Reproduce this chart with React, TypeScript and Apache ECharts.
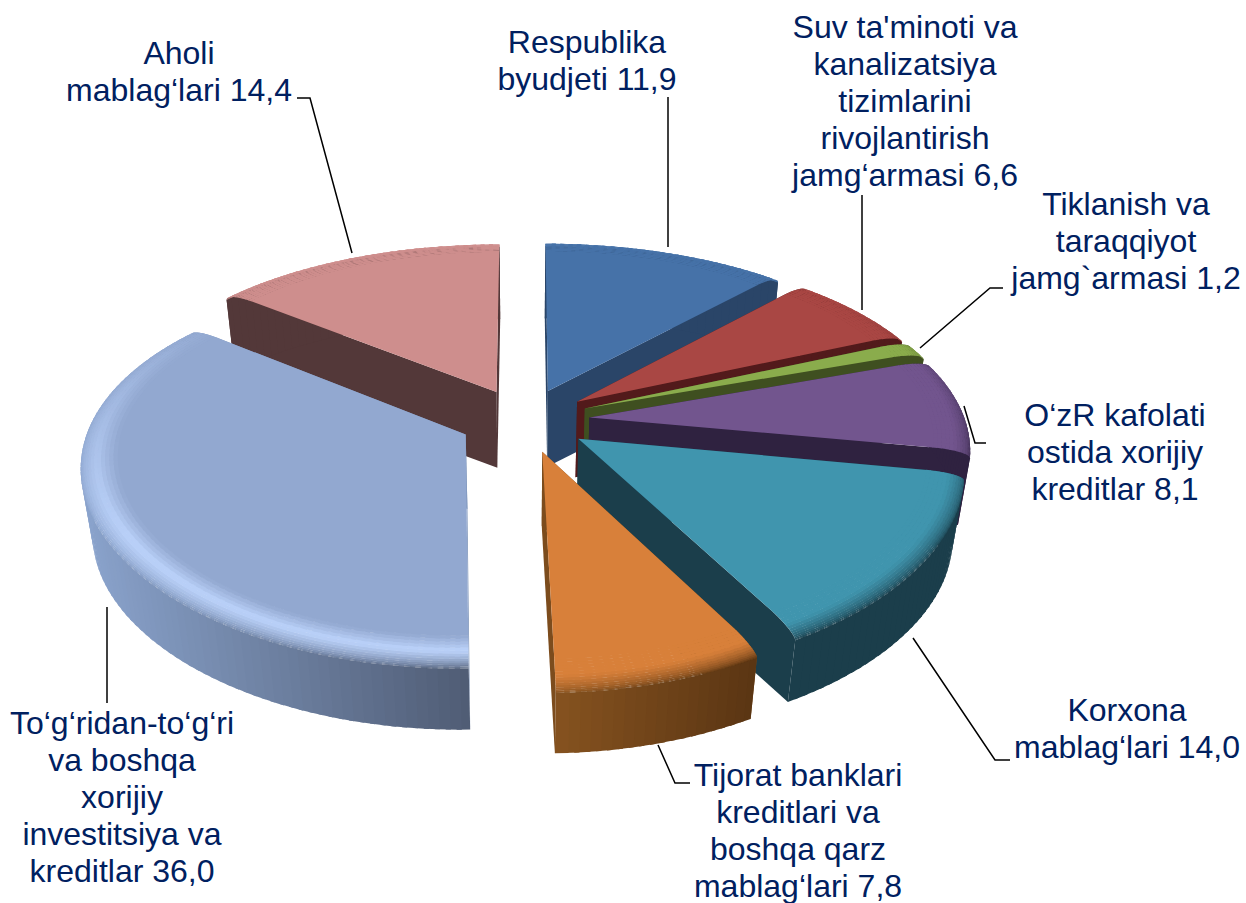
import React, { useEffect, useRef } from "react";
import * as echarts from "echarts";

const categories = [
  "Respublika\nbyudjeti",
  "Suv ta'minoti va\nkanalizatsiya\ntizimlarini\nrivojlantirish\njamg‘armasi",
  "Tiklanish va\ntaraqqiyot\njamg`armasi",
  "O‘zR kafolati\nostida xorijiy\nkreditlar",
  "Korxona\nmablag‘lari",
  "Tijorat banklari\nkreditlari va\nboshqa qarz\nmablag‘lari",
  "To‘g‘ridan-to‘g‘ri\nva boshqa\nxorijiy\ninvestitsiya va\nkreditlar",
  "Aholi\nmablag‘lari",
];
const shares = [11.9, 6.6, 1.2, 8.1, 14.0, 7.8, 36.0, 14.4];

const topColors = ["#4672A8", "#A94744", "#8AAC4C", "#72558E", "#4095AE", "#D8803A", "#92A8D0", "#CE8E8D"];
const rimColors = ["#4672A8", "#A94744", "#8AAC4C", "#72558E", "#4095AE", "#D8803A", "#BBD2FA", "#CE8E8D"];
const wallFrom = ["#2A4568", "#521A1B", "#3F4F20", "#2F2240", "#1B3E4B", "#85521F", "#8AA3CC", "#533839"];
const wallTo = ["#2A4568", "#521A1B", "#3F4F20", "#2F2240", "#1B3E4B", "#5A3513", "#4F5C74", "#533839"];

const labelCenters = [
  [587, 60], [905, 101], [1126, 241], [1115, 452], [1127, 728], [798, 830], [122, 797], [179, 71],
];
const leaders = [
  [[668, 97], [668, 247]],
  [[862, 195], [862, 310]],
  [[1003, 288], [990, 288], [920, 348]],
  [[986, 443], [975, 443], [964, 406]],
  [[1010, 760], [995, 760], [913, 638]],
  [[690, 783], [675, 783], [658, 745]],
  [[107, 703], [107, 607]],
  [[297, 98], [310, 98], [352, 253]],
];

const CX = 524.5, CY = 420, RX = 379, RY = 186, KX = 0.12, KY = 0.1595, DEPTH = 75, SHRINK = 0.03, EXPLODE = 0.172;
const FLAT = 0.9, RIM_Z = 0.1, RIM_BANDS = 14, STEP_DEG = 1.5;

const hex = (c: string) => [1, 3, 5].map((i) => parseInt(c.slice(i, i + 2), 16));
const mix = (a: string, b: string, t: number) => {
  const x = hex(a), y = hex(b);
  return "#" + x.map((v, i) => Math.round(v + (y[i] - v) * t).toString(16).padStart(2, "0")).join("");
};
const rad = (d: number) => (d * Math.PI) / 180;

function project(u: number, v: number, z: number): number[] {
  const s = 1 - z * SHRINK;
  return [CX + (s * RX * u) / (1 - KX * v), CY + (s * RY * v) / (1 - KY * v) + z * DEPTH];
}
const rimR = (p: number) => FLAT + (1 - FLAT) * Math.sin((Math.min(1, p) * Math.PI) / 2);
const rimZ = (p: number) => RIM_Z * (1 - Math.cos((Math.min(1, p) * Math.PI) / 2));

const renderSlice = (_p: any, api: any) => {
  const value = api.value(0), from = api.value(1), idx = api.value(2);
  const a0 = (from / 100) * 360, a1 = ((from + value) / 100) * 360, mid = (a0 + a1) / 2;
  const ox = EXPLODE * Math.sin(rad(mid)), oy = -EXPLODE * Math.cos(rad(mid));
  const pt = (deg: number, r: number, z: number) =>
    project(ox + r * Math.sin(rad(deg)), oy - r * Math.cos(rad(deg)), z);
  const poly = (points: number[][], fill: any) => ({
    type: "polygon", silent: true, shape: { points }, style: { fill },
  });
  const top = topColors[idx], rim = rimColors[idx];
  const children: any[] = [];
  const radialWall = mix(wallFrom[idx], wallTo[idx], 0.2);
  for (const deg of [a0, a1]) {
    const edge = [pt(deg, 0, 0)];
    for (let j = 0; j <= 6; j++) edge.push(pt(deg, rimR(j / 6), rimZ(j / 6)));
    children.push(poly([...edge, pt(deg, 1, 1), pt(deg, 0, 1)], radialWall));
  }
  const n = Math.max(2, Math.ceil((a1 - a0) / STEP_DEG));
  const ang = (i: number) => a0 + ((a1 - a0) * i) / n;
  const xs = Array.from({ length: n + 1 }, (_, i) => pt(ang(i), 1, 0)[0]);
  const minX = Math.min(...xs), maxX = Math.max(...xs);
  const overlap = 0.35;
  const cell = (i: number) => ({
    am: ang(i + 0.5),
    b0: Math.max(a0, ang(i) - overlap),
    b1: Math.min(a1, ang(i + 1) + overlap),
    t: (pt(ang(i + 0.5), 1, 0)[0] - minX) / Math.max(1, maxX - minX),
  });
  // outer wall
  for (let i = 0; i < n; i++) {
    const { b0, b1, t } = cell(i);
    children.push(poly([pt(b0, 1, RIM_Z), pt(b1, 1, RIM_Z), pt(b1, 1, 1), pt(b0, 1, 1)], mix(wallFrom[idx], wallTo[idx], t)));
  }
  // rounded rim, drawn from the wall inwards
  for (let j = RIM_BANDS - 1; j >= 0; j--) {
    const p0 = j / RIM_BANDS, p1 = (j + 1.15) / RIM_BANDS, pm = (j + 0.5) / RIM_BANDS;
    const r0 = rimR(p0), r1 = rimR(p1), z0 = rimZ(p0), z1 = rimZ(p1);
    for (let i = 0; i < n; i++) {
      const { am, b0, b1, t } = cell(i);
      const wall = mix(wallFrom[idx], wallTo[idx], t);
      const facing = Math.min(1, Math.max(0, (-Math.cos(rad(am)) + 0.75) / 1.25));
      const col = pm < 0.35 ? mix(top, rim, pm / 0.35) : mix(rim, wall, Math.pow((pm - 0.35) / 0.65, 1.1));
      children.push(poly([pt(b0, r0, z0), pt(b1, r0, z0), pt(b1, r1, z1), pt(b0, r1, z1)], mix(top, col, facing)));
    }
  }
  const face = [pt(a0, 0, 0)];
  for (let i = 0; i <= n; i++) face.push(pt(ang(i), FLAT + 0.002, 0));
  children.push(poly(face, top));
  return { type: "group", children };
};

const comma = (v: number) => v.toFixed(1).replace(".", ",");

export default function App() {
  const ref = useRef<HTMLDivElement>(null);
  useEffect(() => {
    document.body.style.margin = "0";
    const chart = echarts.init(ref.current!, undefined, { renderer: "svg" });
    let acc = 0;
    const rows = shares.map((v, i) => {
      const row = { value: [v, acc, i], depth: 0 };
      row.depth = -Math.cos(rad(((acc + v / 2) / 100) * 360));
      acc += v;
      return row;
    });
    const ordered = [...rows].sort((a, b) => a.depth - b.depth).map((r) => r.value);
    chart.setOption({
      animation: false,
      backgroundColor: "#ffffff",
      series: [{
        type: "custom",
        coordinateSystem: "none",
        renderItem: renderSlice,
        data: ordered,
        silent: true,
      }],
      graphic: [
        ...leaders.map((points) => ({
          type: "polyline", silent: true, shape: { points },
          style: { stroke: "#000000", lineWidth: 1.5, fill: "none" },
        })),
        ...categories.map((c, i) => ({
          type: "text", silent: true, x: labelCenters[i][0], y: labelCenters[i][1],
          style: {
            text: `${c} ${comma(shares[i])}`,
            fill: "#002060",
            font: '32px "Liberation Sans"',
            lineHeight: 37,
            textAlign: "center",
            textVerticalAlign: "middle",
          },
        })),
      ],
    });
    return () => chart.dispose();
  }, []);
  return <div ref={ref} style={{ position: "absolute", left: 0, top: 0, width: 1246, height: 903 }} />;
}
